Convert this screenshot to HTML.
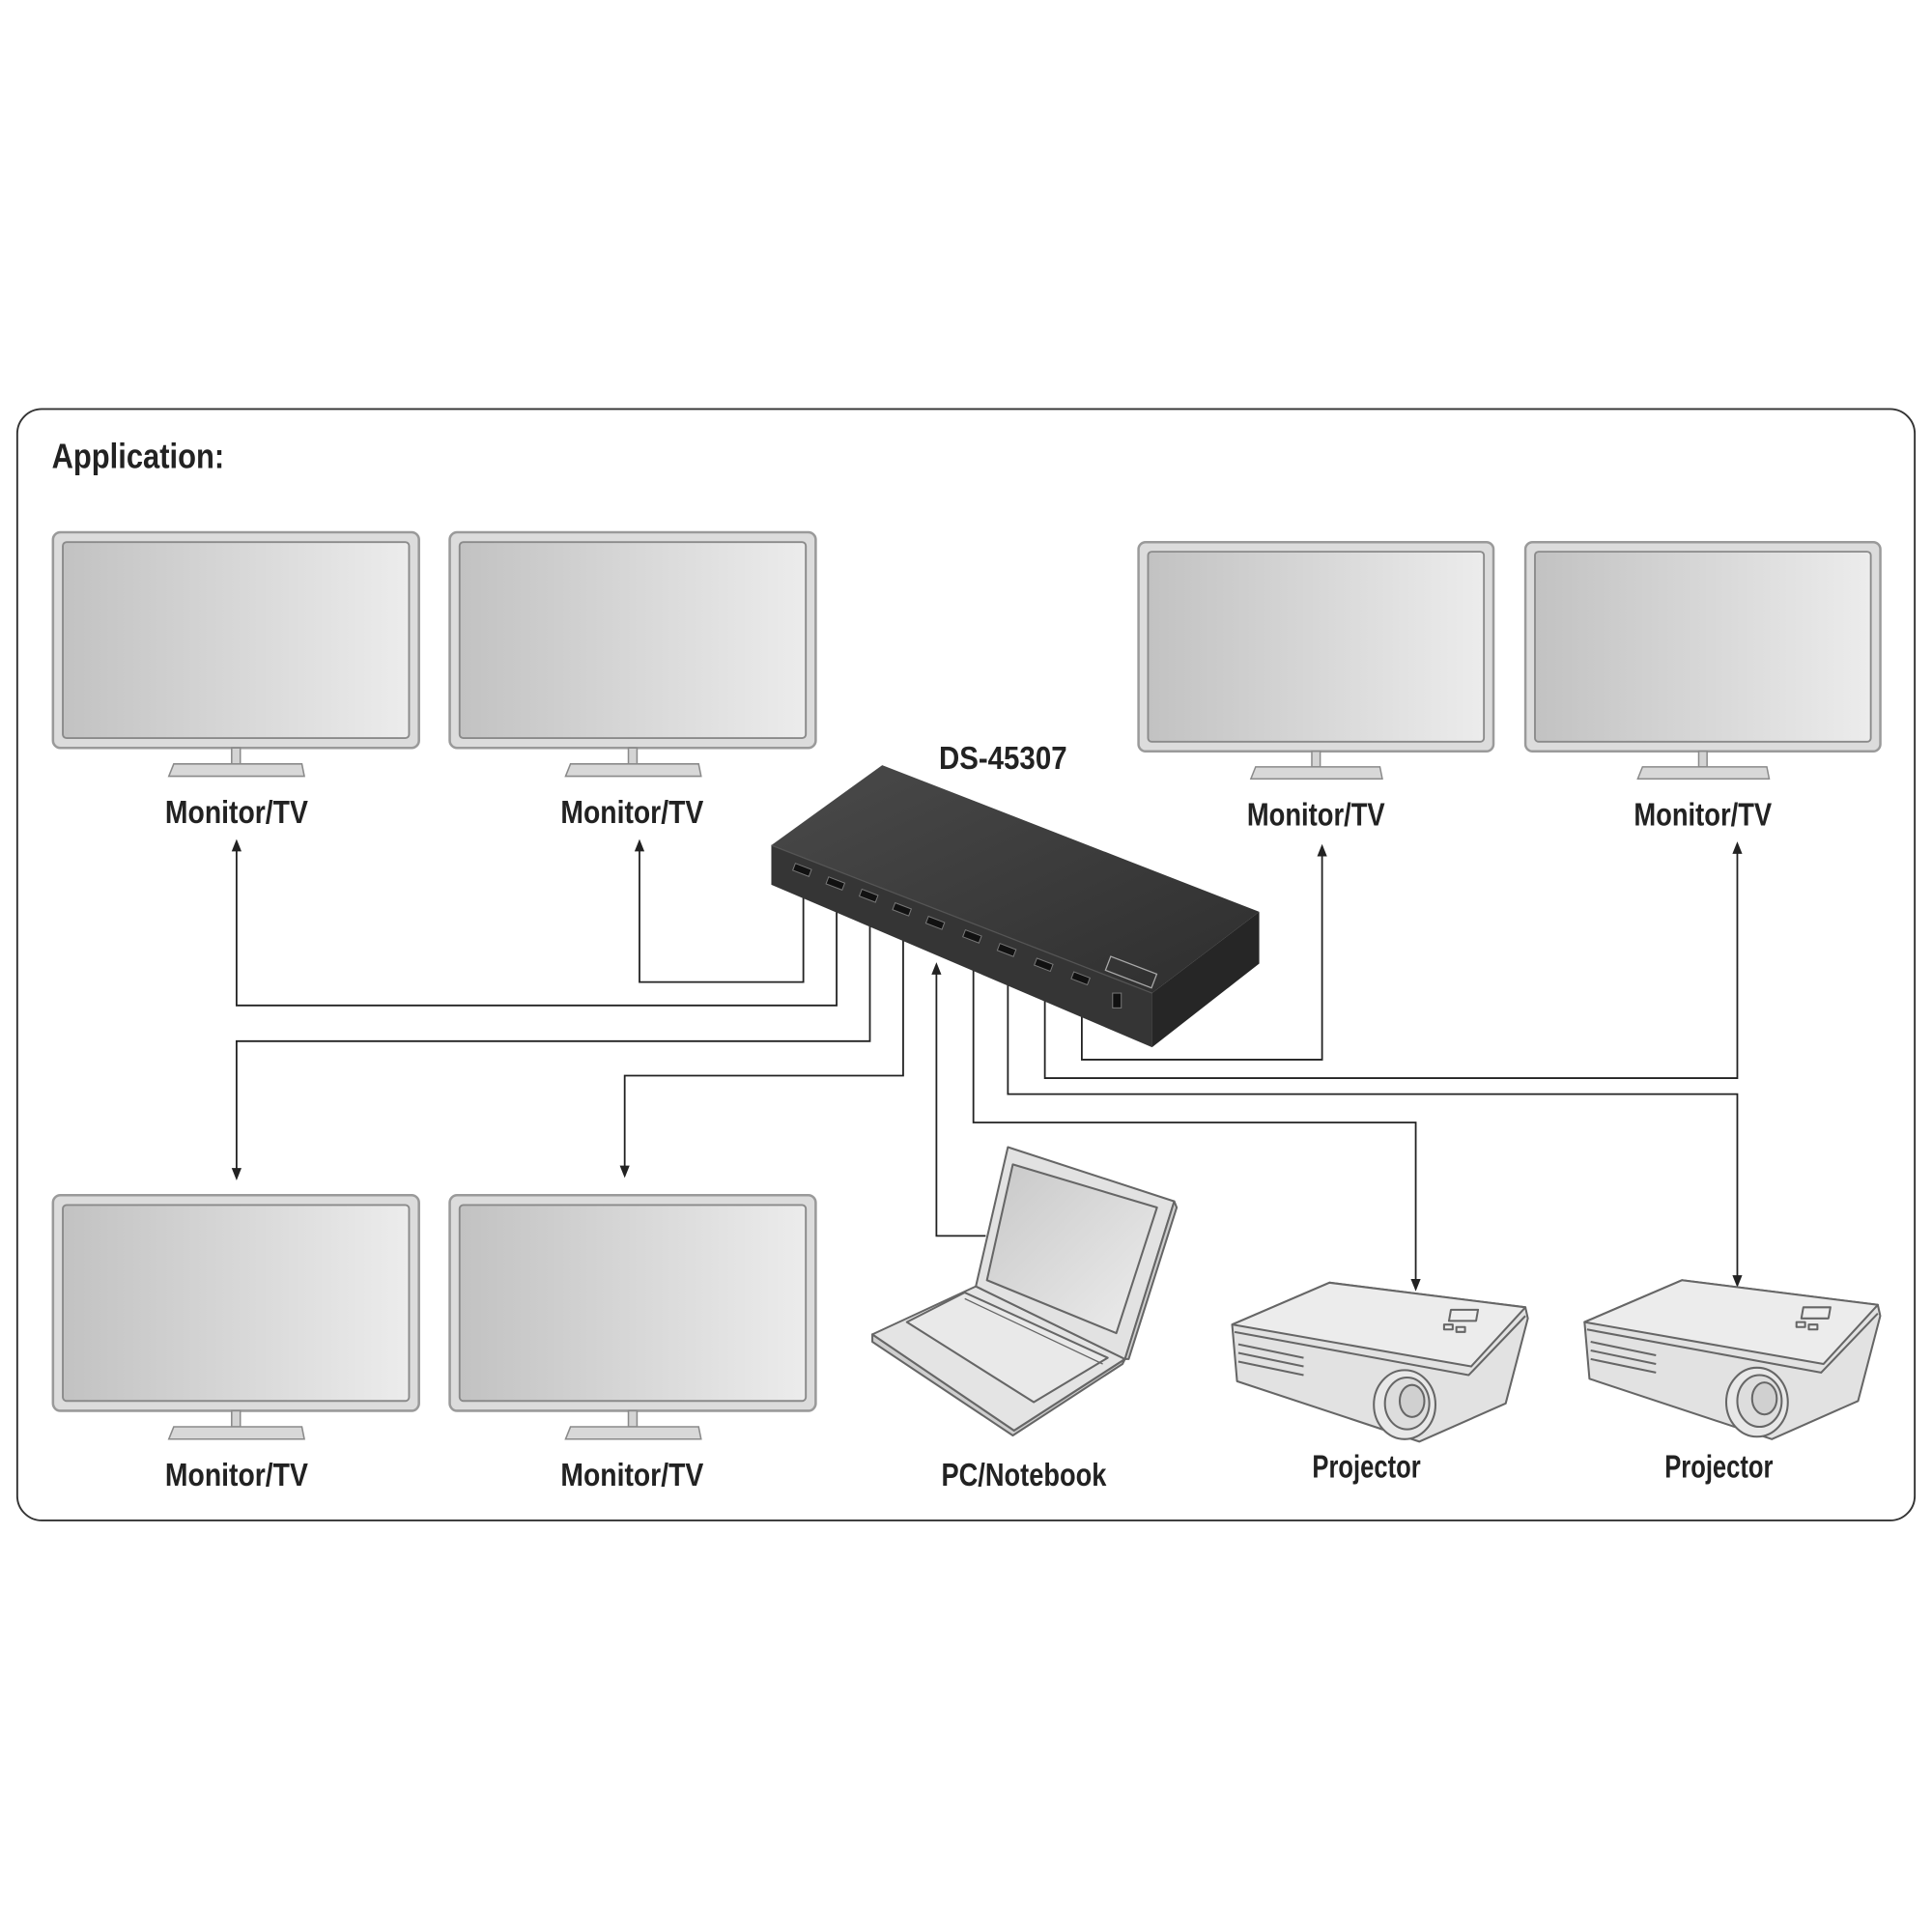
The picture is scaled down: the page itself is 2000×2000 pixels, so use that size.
<!DOCTYPE html>
<html><head><meta charset="utf-8"><style>
html,body{margin:0;padding:0;background:#fff;}
svg{display:block;}
text{font-family:"Liberation Sans Narrow","Liberation Sans",sans-serif;font-weight:bold;fill:#222;}
</style></head><body>
<svg width="2000" height="2000" viewBox="0 0 1568 1568" xmlns="http://www.w3.org/2000/svg">
<defs>
<linearGradient id="scr" x1="0" y1="0" x2="1" y2="0">
<stop offset="0" stop-color="#c2c2c2"/><stop offset="1" stop-color="#ececec"/></linearGradient>
<linearGradient id="lap" x1="0" y1="0" x2="1" y2="1">
<stop offset="0" stop-color="#c8c8c8"/><stop offset="1" stop-color="#ededed"/></linearGradient>
<linearGradient id="dev" x1="0" y1="0" x2="1" y2="1">
<stop offset="0" stop-color="#4a4a4a"/><stop offset="1" stop-color="#2e2e2e"/></linearGradient>
<g id="mon">
<rect x="0" y="0" width="297" height="175" rx="6" fill="#dcdcdc" stroke="#9a9a9a" stroke-width="2"/>
<rect x="8" y="8" width="281" height="159" rx="3" fill="url(#scr)" stroke="#8a8a8a" stroke-width="1.5"/>
<rect x="145" y="175" width="7" height="13" fill="#d4d4d4" stroke="#8a8a8a" stroke-width="1.2"/>
<polygon points="98,188 202,188 204,198 94,198" fill="#d8d8d8" stroke="#8a8a8a" stroke-width="1.2"/>
</g>
<g id="proj" fill="#e6e6e6" stroke="#666" stroke-width="1.6" stroke-linejoin="round">
<path d="M1000,1075 L1079,1041 L1238,1061 L1240,1070 L1222,1139 L1152,1170 L1004,1121 Z" fill="#e2e2e2"/>
<path d="M1000,1075 L1079,1041 L1238,1061 L1194,1109 Z" fill="#ececec"/>
<path d="M1002,1081 L1192,1116 L1238,1068" fill="none"/>
<line x1="1005" y1="1091" x2="1058" y2="1102"/>
<line x1="1005" y1="1098" x2="1058" y2="1109"/>
<line x1="1005" y1="1105" x2="1058" y2="1116"/>
<rect x="1177" y="1063" width="22" height="9" transform="skewX(-10) translate(188,0)" fill="#eee"/>
<rect x="1172" y="1075" width="7" height="4" fill="#eee"/>
<rect x="1182" y="1077" width="7" height="4" fill="#eee"/>
<ellipse cx="1140" cy="1140" rx="25" ry="28" fill="#e8e8e8"/>
<ellipse cx="1142" cy="1139" rx="18" ry="21" fill="#ddd"/>
<ellipse cx="1146" cy="1137" rx="10" ry="13" fill="#d0d0d0"/>
</g>
</defs>

<rect x="14" y="332" width="1540" height="902" rx="20" fill="#fff" stroke="#333" stroke-width="1.5"/>
<text x="42" y="380" font-size="28" textLength="140" lengthAdjust="spacingAndGlyphs">Application:</text>

<use href="#mon" x="43" y="432"/>
<use href="#mon" x="365" y="432"/>
<use href="#mon" transform="translate(924,440) scale(0.97,0.97)"/>
<use href="#mon" transform="translate(1238,440) scale(0.97,0.97)"/>
<use href="#mon" x="43" y="970"/>
<use href="#mon" x="365" y="970"/>

<text x="192" y="668" font-size="26" text-anchor="middle" textLength="116" lengthAdjust="spacingAndGlyphs">Monitor/TV</text>
<text x="513" y="668" font-size="26" text-anchor="middle" textLength="116" lengthAdjust="spacingAndGlyphs">Monitor/TV</text>
<text x="1068" y="670" font-size="26" text-anchor="middle" textLength="112" lengthAdjust="spacingAndGlyphs">Monitor/TV</text>
<text x="1382" y="670" font-size="26" text-anchor="middle" textLength="112" lengthAdjust="spacingAndGlyphs">Monitor/TV</text>
<text x="192" y="1206" font-size="26" text-anchor="middle" textLength="116" lengthAdjust="spacingAndGlyphs">Monitor/TV</text>
<text x="513" y="1206" font-size="26" text-anchor="middle" textLength="116" lengthAdjust="spacingAndGlyphs">Monitor/TV</text>
<text x="831" y="1206" font-size="26" text-anchor="middle" textLength="134" lengthAdjust="spacingAndGlyphs">PC/Notebook</text>
<text x="1109" y="1199" font-size="26" text-anchor="middle" textLength="88" lengthAdjust="spacingAndGlyphs">Projector</text>
<text x="1395" y="1199" font-size="26" text-anchor="middle" textLength="88" lengthAdjust="spacingAndGlyphs">Projector</text>
<text x="814" y="624" font-size="26" text-anchor="middle" textLength="104" lengthAdjust="spacingAndGlyphs">DS-45307</text>

<!-- connectors -->
<g fill="none" stroke="#222" stroke-width="1.4">
<polyline points="652,728 652,797 519,797 519,690"/>
<polyline points="679,735 679,816 192,816 192,690"/>
<polyline points="706,742 706,845 192,845 192,950"/>
<polyline points="733,750 733,873 507,873 507,948"/>
<polyline points="800,1003 760,1003 760,790"/>
<polyline points="790,768 790,911 1149,911 1149,1040"/>
<polyline points="818,776 818,888 1410,888 1410,1036"/>
<polyline points="848,785 848,875 1410,875 1410,692"/>
<polyline points="878,795 878,860 1073,860 1073,694"/>
</g>
<g fill="#222">
<polygon points="519,681 515,691 523,691"/>
<polygon points="192,681 188,691 196,691"/>
<polygon points="192,958 188,948 196,948"/>
<polygon points="507,956 503,946 511,946"/>
<polygon points="760,781 756,791 764,791"/>
<polygon points="1149,1048 1145,1038 1153,1038"/>
<polygon points="1410,1045 1406,1035 1414,1035"/>
<polygon points="1410,683 1406,693 1414,693"/>
<polygon points="1073,685 1069,695 1077,695"/>
</g>

<!-- device -->
<polygon points="626,686 716,621 1022,740 935,806" fill="url(#dev)"/>
<polygon points="626,686 935,806 935,850 626,718" fill="#353535"/>
<polygon points="935,806 1022,740 1022,782 935,850" fill="#262626"/>
<line x1="626" y1="686" x2="935" y2="806" stroke="#555" stroke-width="1"/>
<g fill="#111" stroke="#777" stroke-width="0.8">
<rect x="644" y="703" width="14" height="6" transform="rotate(21 651 706)"/>
<rect x="671" y="714" width="14" height="6" transform="rotate(21 678 717)"/>
<rect x="698" y="724" width="14" height="6" transform="rotate(21 705 727)"/>
<rect x="725" y="735" width="14" height="6" transform="rotate(21 732 738)"/>
<rect x="752" y="746" width="14" height="6" transform="rotate(21 759 749)"/>
<rect x="782" y="757" width="14" height="6" transform="rotate(21 789 760)"/>
<rect x="810" y="768" width="14" height="6" transform="rotate(21 817 771)"/>
<rect x="840" y="780" width="14" height="6" transform="rotate(21 847 783)"/>
<rect x="870" y="791" width="14" height="6" transform="rotate(21 877 794)"/>
<rect x="903" y="806" width="7" height="12"/>
</g>
<rect x="898" y="783" width="40" height="12" fill="none" stroke="#aaa" stroke-width="1" transform="rotate(21 918 789)"/>

<!-- laptop -->
<g stroke="#666" stroke-width="1.6" stroke-linejoin="round">
<polygon points="708,1083 708,1089 822,1165 911,1107 913,1103 823,1161" fill="#cfcfcf"/>
<polygon points="708,1083 792,1044 913,1103 823,1161" fill="#e4e4e4"/>
<polygon points="736,1073 783,1049 899,1102 839,1138" fill="#e9e9e9"/>
<line x1="783" y1="1054" x2="895" y2="1107" stroke-width="1"/>
<polygon points="818,931 953,975 913,1103 792,1044" fill="#e2e2e2"/>
<polygon points="953,975 955,980 916,1103 913,1103" fill="#cfcfcf"/>
<polygon points="822,945 939,980 906,1082 801,1039" fill="url(#lap)"/>
</g>

<use href="#proj"/>
<use href="#proj" x="286" y="-2"/>
</svg>
</body></html>
